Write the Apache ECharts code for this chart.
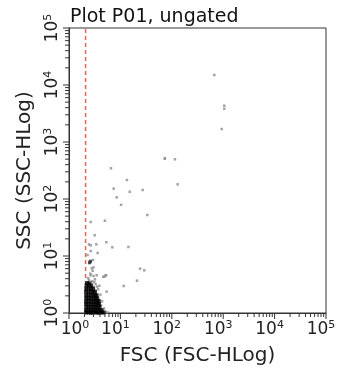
<!DOCTYPE html>
<html>
<head>
<meta charset="utf-8">
<script src="https://cdn.jsdelivr.net/npm/echarts@6/dist/echarts.min.js"></script>
<style>html,body{margin:0;padding:0;background:#fff}#c{width:345px;height:374px}</style>
</head>
<body>
<div id="c"></div>
<script>
const titleText = 'Plot P01, ungated';
const xName = 'FSC (FSC-HLog)';
const yName = 'SSC (SSC-HLog)';
const majorTicks = [1, 10, 100, 1000, 10000, 100000];
const minorTicks = [2,3,4,5,6,7,8,9,20,30,40,50,60,70,80,90,200,300,400,500,600,700,800,900,2000,3000,4000,5000,6000,7000,8000,9000,20000,30000,40000,50000,60000,70000,80000,90000];
const gateFSC = 2.1;
const gateSpan = [1, 100000];

const sparseFSC = [671,1051,1051,935,72.8,73.5,115,6.56,13.4,7.4,15.2,27.1,130,8.47,10.3,33.4,5.0,2.64,3.16,2.45,2.64,3.40,5.32,6.97,14.3,2.64,3.61,2.93,24.1,29.2,2.77,3.0,2.89,2.64,3.0,3.46,4.66,5.25,21.0,11.6,5.41,4.87,5.17,2.3,2.45,2.8,3.3,3.7,4.1,4.4,4.8,5.2,5.7,3.9,2.35,3.2,3.55,4.2,2.6,3.1];
const sparseSSC = [14970,4335,3840,1690,509,520,497,346,215,152,134,144,181,107,79,52.4,41.6,39.5,23.1,16.0,15.4,16.0,17.4,14.2,14.4,12.2,11.3,8.5,5.99,5.61,6.08,6.3,5.5,4.6,4.45,4.6,4.33,4.58,3.69,2.98,2.37,4.33,4.6,10.4,3.8,3.6,3.2,2.6,2.1,1.6,1.2,1.05,1.02,3.0,4.1,3.9,2.9,1.35,4.9,3.5];
const darkFSC = [2.56,2.5,2.62];
const darkSSC = [7.85,7.6,8.1];
const clusterFSC = [2.16,2.38,2.65,2.95,3.25,3.55,3.9,4.3,4.7,
  2.15,2.42,2.7,3.0,3.3,3.62,3.95,4.3,
  2.17,2.4,2.68,2.98,3.28,3.6,3.92,
  2.16,2.41,2.7,3.0,3.3,3.6,3.85,
  2.15,2.4,2.69,2.99,3.29,3.58,3.8,
  2.17,2.42,2.7,3.0,3.3,3.55,
  2.16,2.4,2.68,2.98,3.25,3.45,
  2.15,2.41,2.7,2.98,3.2,
  2.17,2.42,2.7,2.95,
  2.2,2.45,2.7,
  2.25,2.5];
const clusterSSC = [1.02,1.03,1.01,1.02,1.03,1.02,1.01,1.03,1.02,
  1.12,1.13,1.11,1.12,1.13,1.11,1.12,1.12,
  1.26,1.27,1.25,1.26,1.27,1.25,1.26,
  1.42,1.43,1.41,1.42,1.43,1.41,1.42,
  1.6,1.61,1.59,1.6,1.61,1.6,1.62,
  1.8,1.81,1.79,1.8,1.81,1.8,
  2.05,2.06,2.04,2.05,2.06,2.04,
  2.35,2.36,2.34,2.35,2.36,
  2.7,2.71,2.69,2.7,
  3.05,3.06,3.04,
  3.35,3.3];

const zip = (a, b) => a.map((v, i) => [v, b[i]]);
const FONT = 'DejaVu Sans';
const AXMIN = 1;

function expOf(v) { return Math.round(Math.log10(v)); }
function xLabel(v) {
  const e = expOf(v);
  if (e === 0) return '{g0|}{b|10}{s|0}';
  return '{b|10}{s|' + e + '}{g|}';
}
function yLabel(v) { return '{b|10}{s|' + expOf(v) + '}'; }
const rich = {
  b: { fontSize: 17, fontFamily: FONT, color: '#222', lineHeight: 20 },
  s: { fontSize: 11, fontFamily: FONT, color: '#222', lineHeight: 20, verticalAlign: 'top' },
  g: { width: 10, height: 1 },
  g0: { width: 12, height: 1 }
};

const axisCommon = {
  type: 'log', min: 1, max: 100000, logBase: 10,
  splitLine: { show: false },
  nameLocation: 'middle',
  nameTextStyle: { fontSize: 20, fontFamily: FONT, color: '#222' },
  axisLine: { show: true, lineStyle: { color: '#333', width: 1 } },
  axisTick: { show: false }
};

// tick marks drawn as markers on the axis edges, positioned by the log scales
function tickSeries(values, isX, len) {
  return {
    type: 'scatter', xAxisIndex: 0, yAxisIndex: 0, silent: true, clip: false, z: 4,
    symbol: 'rect',
    symbolSize: isX ? [1, len] : [len, 1],
    symbolOffset: isX ? [0, len / 2] : [-len / 2, 0],
    itemStyle: { color: '#333', opacity: 1 },
    data: values.map(v => isX ? [v, AXMIN] : [AXMIN, v])
  };
}

const chart = echarts.init(document.getElementById('c'), null, { renderer: 'canvas' });
chart.setOption({
  animation: false,
  backgroundColor: '#fff',
  title: { text: titleText, left: 65, top: 3, textStyle: { fontSize: 19, fontWeight: 'normal', fontFamily: FONT, color: '#111' } },
  grid: { left: 69, top: 28, width: 257, height: 285, show: true, borderColor: '#333', borderWidth: 1, containLabel: false },
  xAxis: Object.assign({}, axisCommon, { position: 'bottom', name: xName, nameGap: 33,
    axisLabel: { customValues: majorTicks, formatter: xLabel, rich: rich, margin: 7 } }),
  yAxis: Object.assign({}, axisCommon, { position: 'left', name: yName, nameGap: 32,
    axisLabel: { customValues: majorTicks, formatter: yLabel, rich: rich, margin: 6, rotate: 90 } }),
  series: [
    { type: 'line', data: gateSpan.map(v => [gateFSC, v]), symbol: 'none', silent: true, z: 1,
      itemStyle: { color: '#f25c5c' },
      lineStyle: { color: '#f25c5c', type: [4, 3], width: 1.5, opacity: 1 } },
    { type: 'scatter', data: zip(sparseFSC, sparseSSC), symbol: 'rect', symbolSize: 2.5, itemStyle: { color: '#8c8c8c' }, silent: true, z: 3 },
    { type: 'scatter', data: zip(darkFSC, darkSSC), symbol: 'rect', symbolSize: 3, itemStyle: { color: '#333' }, silent: true, z: 3 },
    { type: 'scatter', data: zip(clusterFSC, clusterSSC), symbol: 'rect', symbolSize: 4, itemStyle: { color: '#000' }, silent: true, z: 3 },
    tickSeries(majorTicks, true, 6),
    tickSeries(minorTicks, true, 4),
    tickSeries(majorTicks, false, 6),
    tickSeries(minorTicks, false, 4)
  ]
});
</script>
</body>
</html>
